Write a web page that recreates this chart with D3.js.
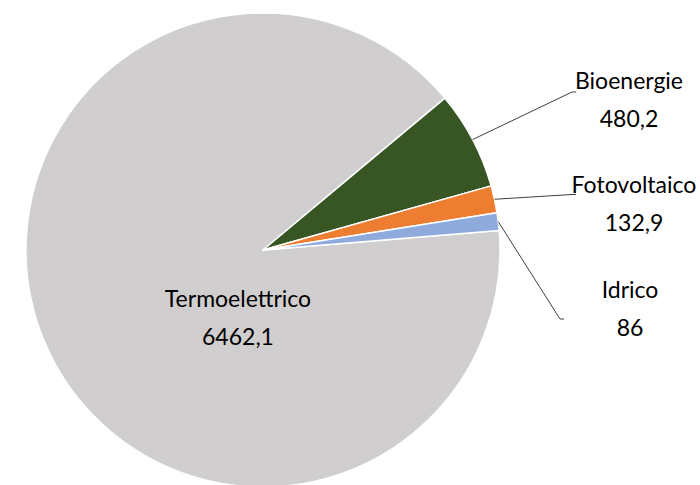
<!DOCTYPE html>
<html>
<head>
<meta charset="utf-8">
<script src="https://cdn.jsdelivr.net/npm/d3@7"></script>
<style>
  body { margin: 0; background: #fff; }
  svg { display: block; }
  text { font-family: Lato, "Noto Sans", sans-serif; font-size: 23px; fill: #000; }
</style>
</head>
<body>
<svg id="chart" width="700" height="485"></svg>
<script>
// data
const categories = ["Termoelettrico", "Bioenergie", "Fotovoltaico", "Idrico"];
const values = [6462.1, 480.2, 132.9, 86];
const valueLabels = ["6462,1", "480,2", "132,9", "86"];
const colors = ["#D0CECE", "#375623", "#ED7D31", "#8FAADC"];

const width = 700, height = 485;
const cx = 263, cy = 250, radius = 237;
const startDeg = 85.3;                                                         // first slice starts just below 3 o'clock

// label anchors (text centre x, first baseline y) and leader line end points
const labelPos = [
    { x: 238, y: 307, line: null },
    { x: 629, y: 89,  line: [[572, 92], [576, 92]] },
    { x: 634, y: 193, line: [[572, 194.5], [576, 194.5]] },
    { x: 630, y: 298, line: [[560, 319], [564, 319]] }
];

const svg = d3.select("#chart");
const g = svg.append("g").attr("transform", `translate(${cx},${cy})`);

const pie = d3.pie()
    .sort(null)
    .startAngle(startDeg * Math.PI / 180)
    .endAngle(startDeg * Math.PI / 180 + 2 * Math.PI);

const arcs = pie(values);
const arc = d3.arc().innerRadius(0).outerRadius(radius);
const edge = d3.arc().innerRadius(radius).outerRadius(radius);

g.selectAll("path.slice")
    .data(arcs)
    .join("path")
        .attr("class", "slice")
        .attr("d", arc)
        .attr("fill", (d, i) => colors[i])
        .attr("stroke", "#fff")
        .attr("stroke-width", 1.5)
        .attr("stroke-linejoin", "round");

// leader lines from the middle of each small slice's arc
arcs.forEach((d, i) => {
    const lp = labelPos[i];
    if (!lp.line) return;
    const p = edge.centroid(d);
    const pts = [[p[0] + cx, p[1] + cy], ...lp.line];
    svg.append("path")
        .attr("d", d3.line()(pts))
        .attr("fill", "none")
        .attr("stroke", "#404040")
        .attr("stroke-width", 1);
});

// labels: name + value on two lines
categories.forEach((name, i) => {
    const lp = labelPos[i];
    const t = svg.append("text")
        .attr("x", lp.x)
        .attr("y", lp.y)
        .attr("text-anchor", "middle");
    t.append("tspan").attr("x", lp.x).text(name);
    t.append("tspan").attr("x", lp.x).attr("dy", 38).text(valueLabels[i]);
});
</script>
</body>
</html>
